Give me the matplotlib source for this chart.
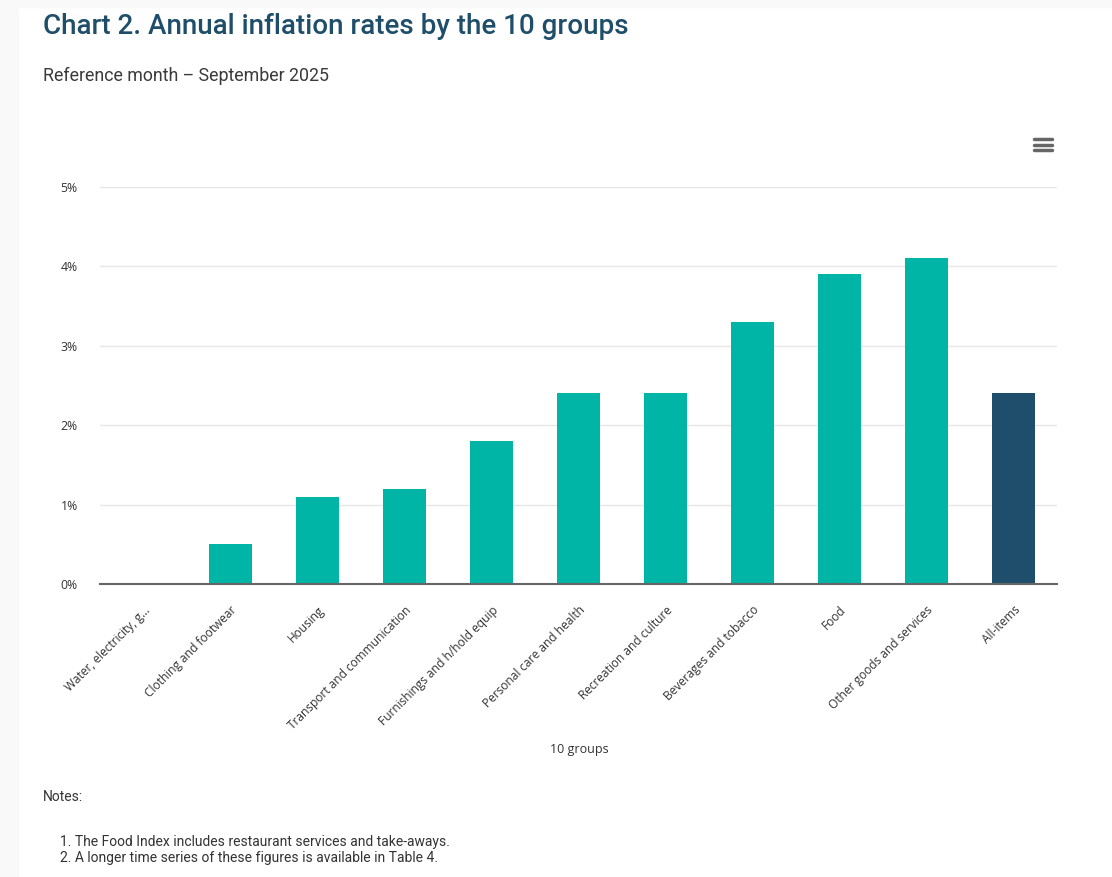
import matplotlib.pyplot as plt
from matplotlib.patches import Rectangle
from matplotlib.lines import Line2D

# data
groups = ['Water, electricity, g...', 'Clothing and footwear', 'Housing',
          'Transport and communication', 'Furnishings and h/hold equip',
          'Personal care and health', 'Recreation and culture',
          'Beverages and tobacco', 'Food', 'Other goods and services', 'All-items']
rates = [0.0, 0.5, 1.1, 1.2, 1.8, 2.4, 2.4, 3.3, 3.9, 4.1, 2.4]
y_ticks = [0, 1, 2, 3, 4, 5]
notes = ['1. The Food Index includes restaurant services and take-aways.',
         '2. A longer time series of these figures is available in Table 4.']

teal = '#00b5a5'
navy = '#1f4e6c'
colors = [navy if g == 'All-items' else teal for g in groups]

W, H = 1112, 877
fig = plt.figure(figsize=(W / 100, H / 100), dpi=100)

# faint page shadow on the left / top edge
fig.patches.append(Rectangle((0, 0), 18 / W, 1, transform=fig.transFigure,
                             color='#f9f9f9', zorder=0))
fig.patches.append(Rectangle((0, 1 - 7 / H), 1, 7 / H, transform=fig.transFigure,
                             color='#f9f9f9', zorder=0))

ax = fig.add_axes([100 / W, 1 - 584 / H, 957 / W, 397 / H])
x = list(range(len(groups)))
ax.bar(x, rates, width=0.49, color=colors, zorder=3)
ax.set_xlim(-0.5, len(groups) - 0.5)
ax.set_ylim(0, 5)
ax.set_yticks(y_ticks)
ax.set_yticklabels([f'{t}%' for t in y_ticks], fontsize=8.8, color='#333333',
                   family='Open Sans')
ax.set_xticks(x)
ax.set_xticklabels(groups, rotation=45, ha='right', rotation_mode='anchor',
                   fontsize=8.6, color='#333333', family='Open Sans')
ax.tick_params(axis='both', length=0)
ax.tick_params(axis='x', pad=14)
ax.tick_params(axis='y', pad=16)
ax.grid(axis='y', color='#e6e6e6', linewidth=1, zorder=0)
for s in ['top', 'right', 'left']:
    ax.spines[s].set_visible(False)
ax.spines['bottom'].set_color('#666666')
ax.spines['bottom'].set_linewidth(1.5)
ax.spines['bottom'].set_zorder(4)

fig.text(579 / W, 1 - 749 / H, '10 groups', ha='center', va='center',
         fontsize=9, color='#333333', family='Open Sans')

# title and subtitle
fig.text(43 / W, 1 - 27 / H, 'Chart 2. Annual inflation rates by the 10 groups',
         ha='left', va='center', fontsize=20, color='#1f4e6b',
         family='Roboto', weight='medium')
fig.text(43 / W, 1 - 76 / H, 'Reference month \u2013 September 2025',
         ha='left', va='center', fontsize=12.8, color='#3a3a3a', family='Roboto')

# menu icon
for yy in [139, 144.5, 150]:
    fig.lines.append(Line2D([1034 / W, 1052 / W], [1 - yy / H, 1 - yy / H],
                            transform=fig.transFigure, color='#666666',
                            linewidth=2.5, solid_capstyle='round'))

# notes
fig.text(43 / W, 1 - 797 / H, 'Notes:', ha='left', va='center',
         fontsize=10, color='#333333', family='Roboto')
for i, n in enumerate(notes):
    fig.text(60 / W, 1 - (842 + 16 * i) / H, n, ha='left', va='center',
             fontsize=10, color='#333333', family='Roboto')

fig.savefig('out.png', dpi=100)
